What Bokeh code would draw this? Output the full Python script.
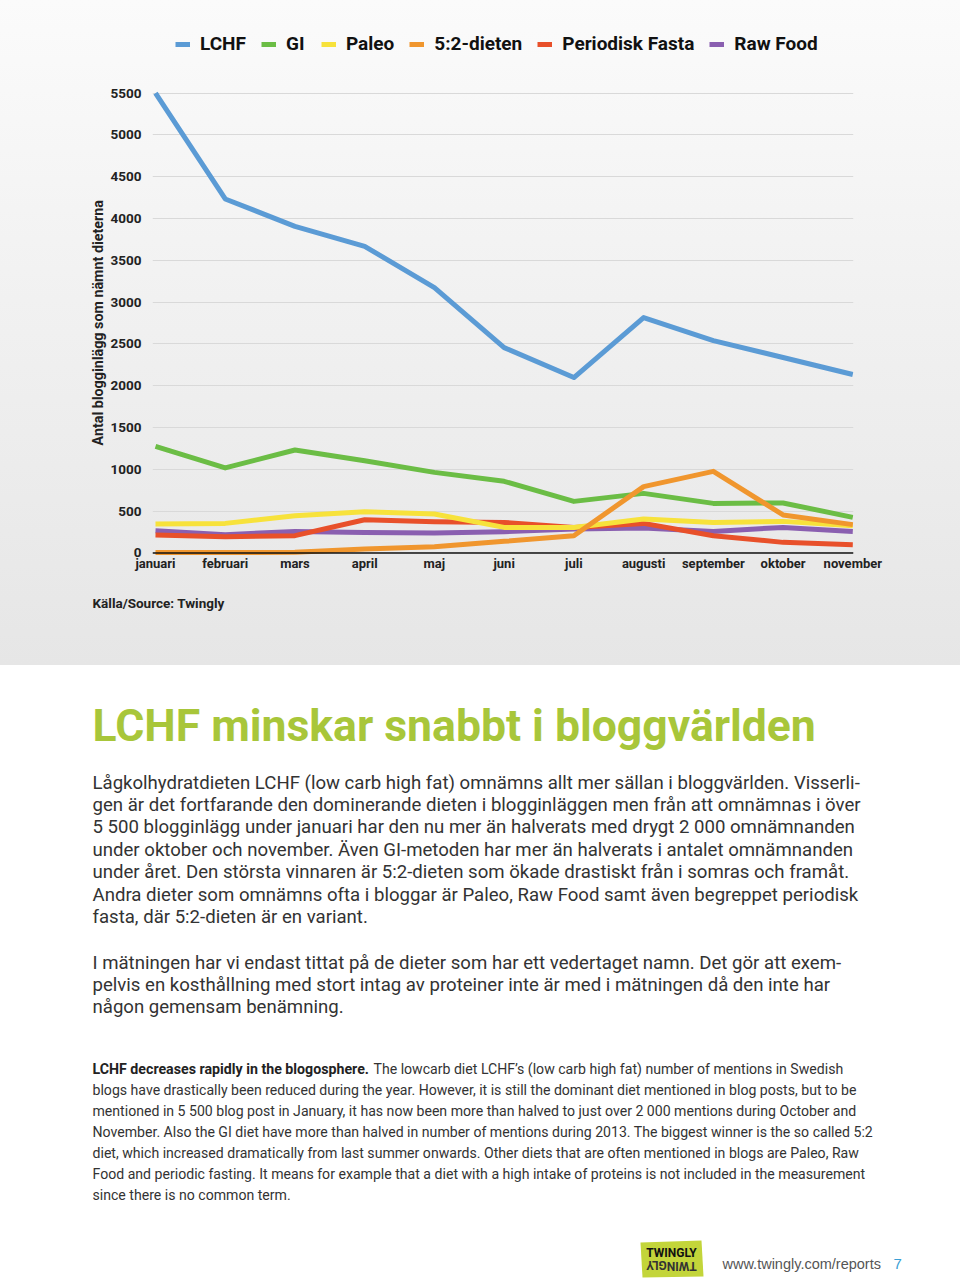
from bokeh.plotting import figure
from bokeh.models import Range1d, FixedTicker, Legend, LegendItem, Span, Title
from bokeh.core.properties import value
from bokeh.embed import file_html
from bokeh.resources import INLINE

# ---------------- data ----------------
months = ["januari", "februari", "mars", "april", "maj", "juni", "juli",
          "augusti", "september", "oktober", "november"]
lchf = [5500, 4233, 3906, 3667, 3173, 2456, 2098, 2815, 2540, 2337, 2134]
gi = [1275, 1017, 1232, 1104, 964, 857, 617, 713, 593, 598, 426]
paleo = [347, 354, 446, 494, 466, 306, 306, 406, 366, 378, 326]
dieten52 = [5, 5, 8, 48, 75, 139, 207, 793, 976, 455, 339]
periodisk = [215, 195, 207, 398, 374, 366, 306, 354, 207, 127, 99]
rawfood = [267, 219, 258, 246, 239, 255, 287, 299, 258, 306, 258]
y_ticks = [0, 500, 1000, 1500, 2000, 2500, 3000, 3500, 4000, 4500, 5000, 5500]

series_names = ["LCHF", "GI", "Paleo", "5:2-dieten", "Periodisk Fasta", "Raw Food"]
series_values = [lchf, gi, paleo, dieten52, periodisk, rawfood]
series_colors = ["#5b9bd5", "#6bbd45", "#f7e23b", "#f0962e", "#e8502a", "#8a5fb0"]
draw_order = [0, 1, 5, 4, 2, 3]

y_title = "Antal blogginlägg som nämnt dieterna"
source_text = "Källa/Source: Twingly"
heading = "LCHF minskar snabbt i bloggvärlden"
para1 = [
    "Lågkolhydratdieten LCHF (low carb high fat) omnämns allt mer sällan i bloggvärlden. Visserli-",
    "gen är det fortfarande den dominerande dieten i blogginläggen men från att omnämnas i över",
    "5 500 blogginlägg under januari har den nu mer än halverats med drygt 2 000 omnämnanden",
    "under oktober och november. Även GI-metoden har mer än halverats i antalet omnämnanden",
    "under året. Den största vinnaren är 5:2-dieten som ökade drastiskt från i somras och framåt.",
    "Andra dieter som omnämns ofta i bloggar är Paleo, Raw Food samt även begreppet periodisk",
    "fasta, där 5:2-dieten är en variant.",
]
para2 = [
    "I mätningen har vi endast tittat på de dieter som har ett vedertaget namn. Det gör att exem-",
    "pelvis en kosthållning med stort intag av proteiner inte är med i mätningen då den inte har",
    "någon gemensam benämning.",
]
eng_bold = "LCHF decreases rapidly in the blogosphere."
eng = [
    "The lowcarb diet LCHF’s (low carb high fat) number of mentions in Swedish",
    "blogs have drastically been reduced during the year. However, it is still the dominant diet mentioned in blog posts, but to be",
    "mentioned in 5 500 blog post in January, it has now been more than halved to just over 2 000 mentions during October and",
    "November. Also the GI diet have more than halved in number of mentions during 2013. The biggest winner is the so called 5:2",
    "diet, which increased dramatically from last summer onwards. Other diets that are often mentioned in blogs are Paleo, Raw",
    "Food and periodic fasting. It means for example that a diet with a high intake of proteins is not included in the measurement",
    "since there is no common term.",
]

FONT = "Roboto"

# ---------------- chart figure ----------------
p = figure(width=960, height=665,
           x_range=Range1d(-0.043, 10.01), y_range=Range1d(-30, 6367),
           output_backend="svg", toolbar_location=None,
           min_border_left=152, min_border_right=107,
           min_border_top=20, min_border_bottom=110)
p.outline_line_color = None
p.background_fill_color = None
p.border_fill_color = None
p.styles = {"background": "linear-gradient(to bottom, #fbfbfb 0%, #f1f1f1 45%, #e6e6e6 100%)"}

p.xaxis.ticker = FixedTicker(ticks=list(range(len(months))))
p.xaxis.major_label_overrides = {i: m for i, m in enumerate(months)}
p.xaxis.axis_line_color = None
p.xaxis.major_tick_line_color = None
p.xaxis.minor_tick_line_color = None
p.xaxis.major_label_standoff = -6
p.xaxis.major_label_text_font = FONT
p.xaxis.major_label_text_font_style = "bold"
p.xaxis.major_label_text_font_size = "13px"
p.xaxis.major_label_text_color = "#222222"

p.yaxis.ticker = FixedTicker(ticks=y_ticks)
p.yaxis.axis_line_color = None
p.yaxis.major_tick_line_color = None
p.yaxis.minor_tick_line_color = None
p.yaxis.major_label_standoff = 5
p.yaxis.major_label_text_font = FONT
p.yaxis.major_label_text_font_style = "bold"
p.yaxis.major_label_text_font_size = "13.5px"
p.yaxis.major_label_text_color = "#222222"

p.add_layout(Title(text=y_title, align="left", offset=110, standoff=3,
                   text_font=FONT, text_font_style="bold", text_font_size="14.3px",
                   text_color="#222222"), "left")

p.xgrid.visible = False
p.ygrid.ticker = FixedTicker(ticks=y_ticks)
p.ygrid.grid_line_color = "#d9d9d9"
p.ygrid.grid_line_width = 1

x_idx = list(range(len(months)))
renderers = {}
for i in draw_order:
    renderers[i] = p.line(x_idx, series_values[i], line_width=5,
                          line_color=series_colors[i], line_join="round")

p.add_layout(Span(location=0, dimension="width", line_color="#111111", line_width=1.5))

legend = Legend(items=[LegendItem(label=series_names[i], renderers=[renderers[i]])
                       for i in range(len(series_names))],
                location=(23, 500), orientation="horizontal",
                glyph_width=15, glyph_height=20, label_standoff=10, spacing=15,
                padding=0, margin=0, background_fill_alpha=0, border_line_color=None,
                label_text_font=FONT, label_text_font_style="bold",
                label_text_font_size="19px", label_text_color="#111111",
                label_height=20)
p.add_layout(legend)

p.add_layout(Title(text=source_text, align="left", offset=-60, standoff=38,
                   text_font=FONT, text_font_style="bold", text_font_size="13.5px",
                   text_color="#222222"), "below")

# ---------------- text figure ----------------
q = figure(width=960, height=616, x_range=Range1d(0, 960), y_range=Range1d(616, 0),
           output_backend="svg", toolbar_location=None, min_border=0,
           x_axis_location=None, y_axis_location=None)
q.grid.visible = False
q.outline_line_color = None
q.background_fill_color = "white"
q.border_fill_color = "white"

LEFT = 92
q.text(x=[LEFT], y=[60], text=[heading], text_font=value(FONT), text_font_style="bold",
       text_font_size="44.5px", text_baseline="middle", text_color="#a8c63a")

p1_y = [117 + 22.4 * k for k in range(len(para1))]
q.text(x=[LEFT] * len(para1), y=p1_y, text=para1, text_font=value(FONT),
       text_font_size="18.6px", text_baseline="middle", text_color="#333333")
p2_y = [297 + 22.4 * k for k in range(len(para2))]
q.text(x=[LEFT] * len(para2), y=p2_y, text=para2, text_font=value(FONT),
       text_font_size="18.6px", text_baseline="middle", text_color="#333333")

e_y = [403 + 21 * k for k in range(len(eng))]
q.text(x=[LEFT], y=[e_y[0]], text=[eng_bold], text_font=value(FONT), text_font_style="bold",
       text_font_size="14.2px", text_baseline="middle", text_color="#222222")
q.text(x=[373] + [LEFT] * (len(eng) - 1), y=e_y, text=eng, text_font=value(FONT),
       text_font_size="14.1px", text_baseline="middle", text_color="#333333")

# footer: logo + url + page number
q.patch(x=[640, 701, 703, 642], y=[577, 575, 611, 612], fill_color="#c3d53a", line_color=None)
q.text(x=[671], y=[587], text=["TWINGLY"], text_font=value(FONT), text_font_style="bold",
       text_font_size="12px", text_align="center", text_baseline="middle", text_color="#111111")
q.text(x=[671], y=[600], text=["TWINGLY"], text_font=value(FONT), text_font_style="bold",
       text_font_size="12px", text_align="center", text_baseline="middle", text_color="#333333",
       angle=3.14159)
q.text(x=[722], y=[598], text=["www.twingly.com/reports"], text_font=value("Liberation Sans"),
       text_font_size="14.5px", text_baseline="middle", text_color="#555555")
q.text(x=[893], y=[598], text=["7"], text_font=value("Liberation Sans"),
       text_font_size="15px", text_baseline="middle", text_color="#3a9fd5")

open("out.html", "w").write(file_html([p, q], INLINE))
